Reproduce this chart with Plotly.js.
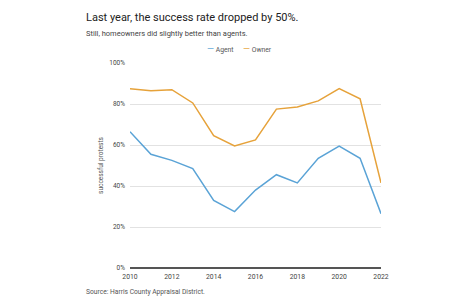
<!DOCTYPE html>
<html>
<head>
<meta charset="utf-8">
<script src="https://cdn.plot.ly/plotly-3.0.1.min.js"></script>
<style>
  body { margin: 0; background: #fff; }
  #chart { width: 474px; height: 307px; }
</style>
</head>
<body>
<div id="chart"></div>
<script>
// Years and success rates (percent)
var years = [2010, 2011, 2012, 2013, 2014, 2015, 2016, 2017, 2018, 2019, 2020, 2021, 2022];
var agentRates = [66.5, 55.5, 52.5, 48.5, 33, 27.5, 38, 45.5, 41.5, 53.5, 59.5, 53.5, 26.5];
var ownerRates = [87.5, 86.5, 87, 80.5, 64.5, 59.5, 62.5, 77.5, 78.5, 81.5, 87.5, 82.5, 41.5];
var yTicks = [0, 20, 40, 60, 80, 100];
var yTickText = ["0%", "20%", "40%", "60%", "80%", "100%"];
var xTicks = [2010, 2012, 2014, 2016, 2018, 2020, 2022];

var agentColor = "#5aa3d6";
var ownerColor = "#e6a23a";

var agent = {
  x: years, y: agentRates, name: "Agent", type: "scatter", mode: "lines",
  line: { color: agentColor, width: 1.5 }
};
var owner = {
  x: years, y: ownerRates, name: "Owner", type: "scatter", mode: "lines",
  line: { color: ownerColor, width: 1.5 }
};

var layout = {
  width: 474, height: 307,
  margin: { l: 130, r: 93, t: 63, b: 39 },
  paper_bgcolor: "#fff", plot_bgcolor: "#fff",
  font: { family: "Roboto, sans-serif", color: "#555", size: 6.5 },
  showlegend: false,
  xaxis: {
    range: [2010, 2022], tickvals: xTicks, showgrid: false, zeroline: false,
    showline: false, ticks: "", ticklabelstandoff: 3,
    tickfont: { size: 6.8, color: "#444" }
  },
  yaxis: {
    range: [0, 100], tickmode: "array", tickvals: yTicks, ticktext: yTickText,
    showgrid: true, gridcolor: "#e2e2e2", gridwidth: 1,
    zeroline: true, zerolinecolor: "#555", zerolinewidth: 1.5,
    ticks: "", ticklabelstandoff: 4, tickfont: { size: 6.5, color: "#444" },
    title: { text: "successful protests", font: { size: 6.5, color: "#555" }, standoff: 4 }
  },
  annotations: [
    { text: "Last year, the success rate dropped by 50%.", xref: "paper", yref: "paper",
      x: -0.183, y: 1.224, xanchor: "left", yanchor: "middle", showarrow: false,
      font: { size: 11, color: "#222" } },
    { text: "Still, homeowners did slightly better than agents.", xref: "paper", yref: "paper",
      x: -0.183, y: 1.146, xanchor: "left", yanchor: "middle", showarrow: false,
      font: { size: 7.5, color: "#444" } },
    { text: "<span style='color:" + agentColor + ";font-size:9px'>—</span> Agent", xref: "paper", yref: "paper",
      x: 0.3625, y: 1.068, xanchor: "center", yanchor: "middle", showarrow: false,
      font: { size: 6.8, color: "#555" } },
    { text: "<span style='color:" + ownerColor + ";font-size:9px'>—</span> Owner", xref: "paper", yref: "paper",
      x: 0.506, y: 1.068, xanchor: "center", yanchor: "middle", showarrow: false,
      font: { size: 6.8, color: "#555" } },
    { text: "Source: Harris County Appraisal District.", xref: "paper", yref: "paper",
      x: -0.183, y: -0.117, xanchor: "left", yanchor: "middle", showarrow: false,
      font: { size: 6.7, color: "#555" } }
  ]
};

Plotly.newPlot("chart", [agent, owner], layout, { displayModeBar: false, staticPlot: true });
</script>
</body>
</html>
